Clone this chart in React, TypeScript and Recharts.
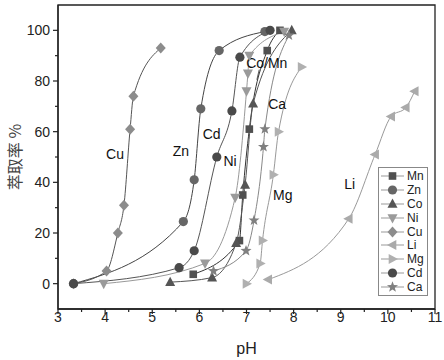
import React from 'react';
import { ComposedChart, Line, XAxis, YAxis, ReferenceArea, ReferenceDot, ReferenceLine, Legend } from 'recharts';

// extraction (%) vs pH
const MN_PH = [5.87, 6.85, 6.92, 7.06, 7.44, 7.71];
const MN_E = [3.7, 17, 35, 61, 92, 100];
const ZN_PH = [3.33, 5.66, 5.89, 6.03, 6.42, 7.39];
const ZN_E = [0, 24.5, 41, 69, 92, 99.5];
const CO_PH = [5.38, 6.27, 6.78, 6.97, 7.14, 7.96];
const CO_E = [0.6, 2.4, 16, 39, 71, 100];
const NI_PH = [3.97, 6.12, 6.76, 7.0, 7.03, 7.06, 7.8];
const NI_E = [0, 8, 34, 76, 83, 90, 99.5];
const CU_PH = [3.33, 4.03, 4.27, 4.4, 4.53, 4.6, 5.18];
const CU_E = [0, 5, 20, 31, 61, 74, 93];
const LI_PH = [7.46, 9.17, 9.73, 10.07, 10.38, 10.57];
const LI_E = [1.6, 25.6, 51, 66, 69.5, 76];
const MG_PH = [7.0, 7.29, 7.34, 7.57, 7.68, 8.17];
const MG_E = [0, 8, 17, 43, 60, 85.5];
const CD_PH = [3.33, 5.57, 5.89, 6.37, 6.69, 6.86, 7.5];
const CD_E = [0, 6.3, 13, 50, 68.2, 89.4, 100];
const CA_PH = [6.3, 6.99, 7.16, 7.36, 7.39, 7.9];
const CA_E = [5, 13, 25, 54, 61, 98];

const X_MAJOR = [3, 4, 5, 6, 7, 8, 9, 10, 11];
const X_MINOR = [3.5, 4.5, 5.5, 6.5, 7.5, 8.5, 9.5, 10.5];
const Y_MAJOR = [0, 20, 40, 60, 80, 100];
const Y_MINOR = [10, 30, 50, 70, 90];

// curve annotations [text, pH, extraction]
const NOTES: [string, number, number][] = [
  ['Cu', 4.21, 51],
  ['Zn', 5.61, 52.5],
  ['Cd', 6.26, 59],
  ['Ni', 6.65, 48.5],
  ['Co/Mn', 7.43, 87],
  ['Ca', 7.65, 71],
  ['Mg', 7.77, 35],
  ['Li', 9.19, 39.5],
];

const FONT = '"Liberation Sans", Arial, sans-serif';
const AXIS = '#222';

const zip = (xs: number[], ys: number[]) => xs.map((x, i) => ({ x, y: ys[i] }));

const SERIES = [
  { name: 'Mn', shape: 'square', fill: '#505050', stroke: '#333', data: zip(MN_PH, MN_E) },
  { name: 'Zn', shape: 'circle', fill: '#666', stroke: '#444', data: zip(ZN_PH, ZN_E) },
  { name: 'Co', shape: 'up', fill: '#555', stroke: '#555', data: zip(CO_PH, CO_E) },
  { name: 'Ni', shape: 'down', fill: '#9a9a9a', stroke: '#999', data: zip(NI_PH, NI_E) },
  { name: 'Cu', shape: 'diamond', fill: '#8c8c8c', stroke: '#555', data: zip(CU_PH, CU_E) },
  { name: 'Li', shape: 'left', fill: '#aaa', stroke: '#999', data: zip(LI_PH, LI_E) },
  { name: 'Mg', shape: 'right', fill: '#b0b0b0', stroke: '#999', data: zip(MG_PH, MG_E) },
  { name: 'Cd', shape: 'circle', fill: '#4a4a4a', stroke: '#555', data: zip(CD_PH, CD_E) },
  { name: 'Ca', shape: 'star', fill: '#808080', stroke: '#888', data: zip(CA_PH, CA_E) },
];

function Marker({ kind, cx, cy, fill }: { kind: string; cx: number; cy: number; fill: string }) {
  if (cx == null || cy == null) return null;
  switch (kind) {
    case 'square':
      return <rect x={cx - 3.8} y={cy - 3.8} width={7.6} height={7.6} fill={fill} />;
    case 'circle':
      return <circle cx={cx} cy={cy} r={4.6} fill={fill} />;
    case 'up':
      return <path d={`M${cx},${cy - 5.5}L${cx + 5},${cy + 3.8}L${cx - 5},${cy + 3.8}Z`} fill={fill} />;
    case 'down':
      return <path d={`M${cx},${cy + 5.5}L${cx + 5},${cy - 3.8}L${cx - 5},${cy - 3.8}Z`} fill={fill} />;
    case 'left':
      return <path d={`M${cx - 5.5},${cy}L${cx + 3.8},${cy - 5}L${cx + 3.8},${cy + 5}Z`} fill={fill} />;
    case 'right':
      return <path d={`M${cx + 5.5},${cy}L${cx - 3.8},${cy - 5}L${cx - 3.8},${cy + 5}Z`} fill={fill} />;
    case 'diamond':
      return <path d={`M${cx},${cy - 5.5}L${cx + 5},${cy}L${cx},${cy + 5.5}L${cx - 5},${cy}Z`} fill={fill} />;
    case 'star': {
      const pts = [];
      for (let i = 0; i < 10; i++) {
        const r = i % 2 === 0 ? 5.8 : 2.4;
        const a = -Math.PI / 2 + (i * Math.PI) / 5;
        pts.push(`${cx + r * Math.cos(a)},${cy + r * Math.sin(a)}`);
      }
      return <polygon points={pts.join(' ')} fill={fill} />;
    }
    default:
      return null;
  }
}

const XTick = (props: any) => {
  const { x, y, payload } = props;
  const major = X_MAJOR.includes(payload.value);
  return (
    <g>
      <line x1={x} x2={x} y1={y} y2={y + (major ? 5 : 3)} stroke={AXIS} strokeWidth={1.2} />
      {major && (
        <text x={x} y={y + 13} textAnchor="middle" fontSize={14} fill={AXIS} fontFamily={FONT}>
          {payload.value}
        </text>
      )}
    </g>
  );
};

const YTick = (props: any) => {
  const { x, y, payload } = props;
  const major = Y_MAJOR.includes(payload.value);
  return (
    <g>
      <line x1={x - (major ? 5 : 3)} x2={x} y1={y} y2={y} stroke={AXIS} strokeWidth={1.2} />
      {major && (
        <text x={x - 8} y={y + 5} textAnchor="end" fontSize={14} fill={AXIS} fontFamily={FONT}>
          {payload.value}
        </text>
      )}
    </g>
  );
};

const LegendBox = () => (
  <div
    style={{
      border: '1px solid #888',
      background: '#fff',
      padding: '1px 0',
      fontFamily: FONT,
      fontSize: 12,
      color: '#222',
    }}
  >
    {SERIES.map((s) => (
      <div key={s.name} style={{ display: 'flex', alignItems: 'center', height: 13.9 }}>
        <svg width={27} height={14} style={{ display: 'block' }}>
          <line x1={2} x2={25} y1={7} y2={7} stroke="#999" strokeWidth={1} />
          <Marker kind={s.shape} cx={13.5} cy={7} fill={s.fill} />
        </svg>
        <span style={{ marginLeft: 1 }}>{s.name}</span>
      </div>
    ))}
  </div>
);

export default function App() {
  return (
    <div style={{ position: 'fixed', left: 0, top: 0, width: 444, height: 360, background: '#fff' }}>
      <ComposedChart width={444} height={360} margin={{ top: 5, right: 9, bottom: 0, left: 0 }}>
        <XAxis
          dataKey="x"
          type="number"
          domain={[3, 11]}
          ticks={[...X_MAJOR, ...X_MINOR].sort((a, b) => a - b)}
          interval={0}
          allowDataOverflow
          height={51}
          tickSize={0}
          tickMargin={0}
          tickLine={false}
          tick={<XTick />}
          axisLine={{ stroke: AXIS, strokeWidth: 1.3 }}
          label={{ value: 'pH', position: 'insideBottom', offset: 6, fontSize: 16, fill: AXIS, fontFamily: FONT }}
        />
        <YAxis
          type="number"
          domain={[-10, 110]}
          ticks={[...Y_MAJOR, ...Y_MINOR].sort((a, b) => a - b)}
          interval={0}
          allowDataOverflow
          width={58}
          tickSize={0}
          tickMargin={0}
          tickLine={false}
          tick={<YTick />}
          axisLine={{ stroke: AXIS, strokeWidth: 1.3 }}
          label={{
            value: '萃取率 %',
            angle: -90,
            position: 'insideLeft',
            offset: 15,
            fontSize: 16,
            fill: '#444',
            fontFamily: '"Noto Sans CJK SC", "Liberation Sans", sans-serif',
            style: { textAnchor: 'middle' },
          }}
        />
        <ReferenceArea x1={3} x2={11} y1={-10} y2={110} fill="none" stroke={AXIS} strokeWidth={1.3} />
        {SERIES.map((s) => (
          <Line
            key={s.name}
            name={s.name}
            data={s.data}
            dataKey="y"
            type="monotone"
            stroke={s.stroke}
            strokeWidth={1}
            isAnimationActive={false}
            activeDot={false}
            dot={(p: any) => <Marker key={`${s.name}-${p.index}`} kind={s.shape} cx={p.cx} cy={p.cy} fill={s.fill} />}
          />
        ))}
        <ReferenceLine
          segment={[
            { x: 7.27, y: 84.5 },
            { x: 7.22, y: 80.5 },
          ]}
          stroke="#333"
          strokeWidth={0.8}
        />
        {NOTES.map(([t, x, y]) => (
          <ReferenceDot
            key={t}
            x={x}
            y={y}
            r={0}
            shape={(p: any) => (
              <text
                x={p.cx}
                y={p.cy}
                textAnchor="middle"
                dominantBaseline="central"
                fontSize={14}
                fill="#111"
                fontFamily={FONT}
              >
                {t}
              </text>
            )}
          />
        ))}
        <Legend
          layout="horizontal"
          align="center"
          verticalAlign="middle"
          content={<LegendBox />}
          wrapperStyle={{ left: 378, top: 167, width: 50 }}
        />
      </ComposedChart>
    </div>
  );
}
